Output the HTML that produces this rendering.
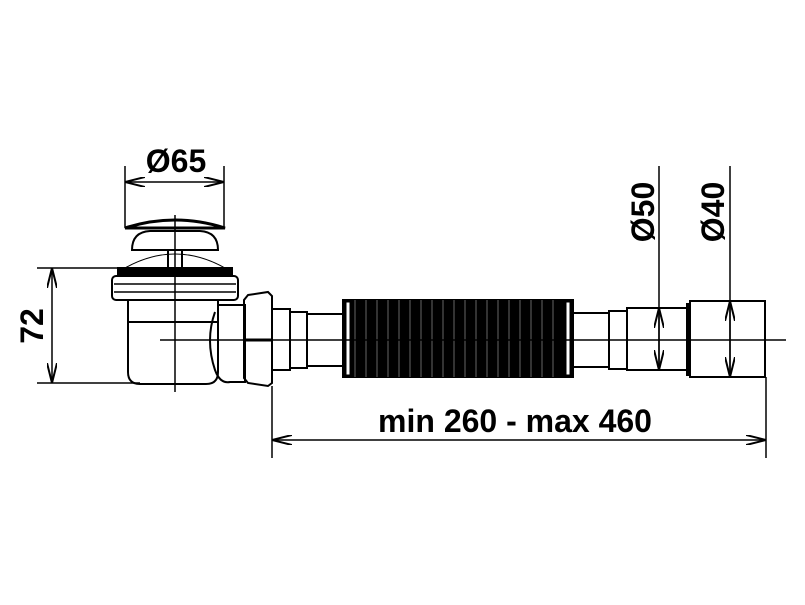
<!DOCTYPE html>
<html><head><style>body{margin:0;background:#fff}svg{display:block}</style></head><body>
<svg width="805" height="605" viewBox="0 0 805 605" xmlns="http://www.w3.org/2000/svg" font-family="Liberation Sans, sans-serif" font-weight="bold">
<defs>
<marker id="a" markerWidth="20" markerHeight="10" refX="20" refY="5" orient="auto" markerUnits="userSpaceOnUse"><path d="M0,0 L20,5 L0,10" fill="none" stroke="#000" stroke-width="2"/></marker>
<marker id="b" markerWidth="20" markerHeight="10" refX="0" refY="5" orient="auto" markerUnits="userSpaceOnUse"><path d="M20,0 L0,5 L20,10" fill="none" stroke="#000" stroke-width="2"/></marker>
</defs>
<g fill="none" stroke="#000" stroke-width="2">
<path d="M125,268 Q175,240 225,268" stroke-width="1"/>
<path d="M125,228 Q175,212 225,228 Z" stroke-width="3"/>
<path d="M132,250 Q132,232 150,231 L200,231 Q218,232 218,250 Z"/>
<rect x="168" y="250" width="14" height="18"/>
<rect x="118" y="268" width="114" height="6" fill="#000"/>
<rect x="112" y="276" width="126" height="24" rx="4"/>
<line x1="114" y1="284" x2="236" y2="284" stroke-width="1.5"/>
<line x1="114" y1="292" x2="236" y2="292" stroke-width="1.5"/>
<path d="M128,300 L128,322 L218,322 L218,300"/>
<path d="M128,322 L128,372 Q128,384 140,384 L206,384 Q218,384 218,372 L218,322"/>
<path d="M215,312 Q205,340 215,370 Q220,384 230,382 L245,382 L245,305 L218,305"/>
<path d="M248,295 L268,292 L272,296 L272,383 L268,386 L248,383 L244,378 L244,300 Z"/>
<line x1="244" y1="340" x2="272" y2="340" stroke-width="3"/>
<rect x="272" y="309" width="18" height="61"/>
<rect x="290" y="312" width="17" height="56"/>
<rect x="307" y="314" width="36" height="52"/>
<rect x="343" y="300" width="230" height="77" fill="#000"/>
<rect x="346" y="302" width="4" height="73" fill="#fff" stroke-width="1"/>
<rect x="566" y="302" width="4" height="73" fill="#fff" stroke-width="1"/>
<path d="M355,300 v77 M366,300 v77 M377,300 v77 M388,300 v77 M399,300 v77 M410,300 v77 M421,300 v77 M432,300 v77 M443,300 v77 M454,300 v77 M465,300 v77 M476,300 v77 M487,300 v77 M498,300 v77 M509,300 v77 M520,300 v77 M531,300 v77 M542,300 v77 M553,300 v77" stroke="#666" stroke-width="1"/>
<rect x="573" y="313" width="36" height="54"/>
<rect x="609" y="311" width="18" height="58"/>
<rect x="627" y="308" width="61" height="62"/>
<rect x="690" y="301" width="75" height="76"/>
<line x1="688" y1="303" x2="688" y2="376" stroke-width="4"/>
</g>
<g stroke="#000" stroke-width="1.5" fill="none">
<line x1="175" y1="215" x2="175" y2="392"/>
<line x1="160" y1="340" x2="786" y2="340"/>
<line x1="125" y1="166" x2="125" y2="228"/>
<line x1="224" y1="166" x2="224" y2="228"/>
<line x1="125" y1="182" x2="224" y2="182" marker-start="url(#b)" marker-end="url(#a)"/>
<line x1="37" y1="268" x2="118" y2="268"/>
<line x1="37" y1="383" x2="140" y2="383"/>
<line x1="52" y1="268" x2="52" y2="383" marker-start="url(#b)" marker-end="url(#a)"/>
<line x1="659" y1="166" x2="659" y2="370"/>
<line x1="659" y1="308" x2="659" y2="370" marker-start="url(#b)" marker-end="url(#a)"/>
<line x1="730" y1="166" x2="730" y2="377"/>
<line x1="730" y1="301" x2="730" y2="377" marker-start="url(#b)" marker-end="url(#a)"/>
<line x1="272" y1="386" x2="272" y2="458"/>
<line x1="766" y1="377" x2="766" y2="458"/>
<line x1="272" y1="440" x2="766" y2="440" marker-start="url(#b)" marker-end="url(#a)"/>
</g>
<g font-size="32" fill="#000">
<text x="176" y="172" text-anchor="middle">Ø65</text>
<text x="515" y="432" text-anchor="middle">min 260 - max 460</text>
<text transform="translate(43,326) rotate(-90)" text-anchor="middle">72</text>
<text transform="translate(654,212) rotate(-90)" text-anchor="middle">Ø50</text>
<text transform="translate(724,212) rotate(-90)" text-anchor="middle">Ø40</text>
</g>
</svg>
</body></html>
